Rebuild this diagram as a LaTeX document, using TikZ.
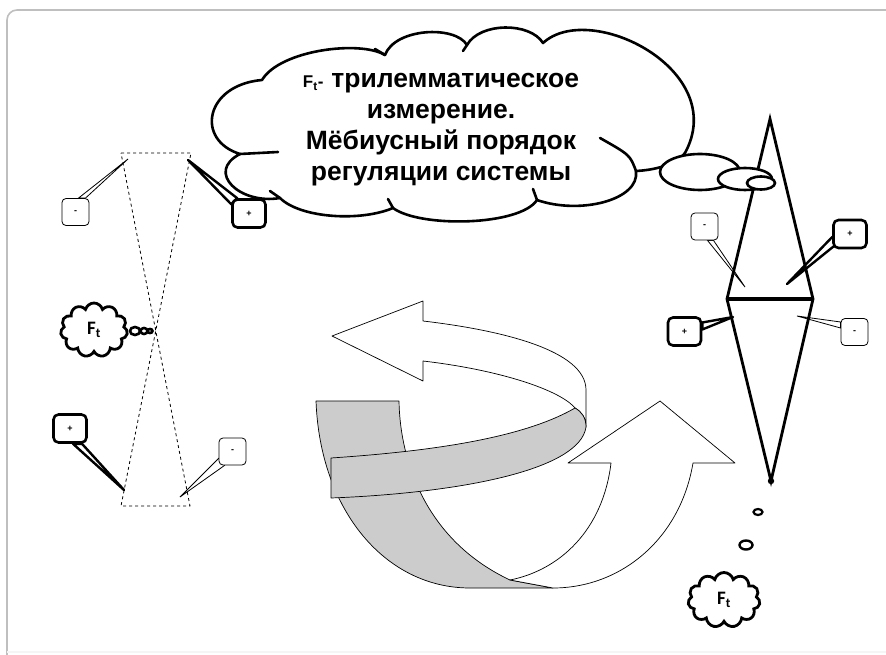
\documentclass[tikz,border=0pt]{standalone}
\usepackage{fontspec}
\newfontfamily\arialb{Liberation Sans}
\newfontfamily\calib{Carlito}
\usetikzlibrary{shapes.symbols}
\pgfdeclarelayer{under}
\pgfsetlayers{under,main}
\tikzset{
    thinbox/.style={draw, fill=white, rounded corners=4pt, line width=0.8pt, minimum width=27pt, minimum height=27pt, inner sep=0pt, font=\arialb\bfseries\fontsize{9}{9}\selectfont},
    thickbox/.style={thinbox, line width=2.6pt, minimum width=33pt, minimum height=28pt, rounded corners=5pt},
    thinwedge/.style={draw, fill=white, line width=0.8pt},
    thickwedge/.style={draw, fill=white, line width=2.4pt, line join=round},
    puff/.style={cloud, cloud puffs=11, cloud ignores aspect, draw, fill=white, line width=2.8pt, inner sep=0pt, font=\calib\bfseries\fontsize{19}{20}\selectfont},
    bubble/.style={draw, fill=white, line width=2.6pt},
    band/.style={draw, line width=0.7pt, line join=round},
    bigcloud/.style={draw, fill=white, line width=2.6pt, line join=round, line cap=round}
}
\begin{document}
\begin{tikzpicture}[x=1pt, y=-1pt]
        \useasboundingbox (0,0) rectangle (886,655);
        \clip (0,0) rectangle (886,655);
        \draw[gray!50, line width=1.6pt, rounded corners=10pt] (7,670) -- (7,10) -- (900,10);
        \draw[gray!8, line width=1.2pt] (7,652) -- (886,652);

        \coordinate (hA) at (121,153);
        \coordinate (hB) at (191,153);
        \coordinate (hC) at (121,506);
        \coordinate (hD) at (190,506);
        \draw[dashed, line width=0.8pt] (hA) -- (hB) -- (hC) -- (hD) -- (hA) -- cycle;

        \draw[band, fill=gray!40] (316,401) -- (399,401) .. controls (400,460) and (425,540) .. (510,580) -- (553,588) -- (470,588) .. controls (385,588) and (320,510) .. (316,401) -- cycle;
        \draw[band, fill=white] (510,580) .. controls (560,570) and (603,530) .. (611,463) -- (568,463) -- (660,401) -- (735,463) -- (693,463) .. controls (680,540) and (620,588) .. (553,588) -- cycle;
        \draw[band, fill=white] (332,336) -- (423,301) -- (423,321) .. controls (500,330) and (586,350) .. (586,390) -- (586,427) .. controls (586,418) and (582,412) .. (575,408) .. controls (560,390) and (500,370) .. (423,361) -- (423,381) -- cycle;
        \draw[band, fill=gray!40] (575,408) .. controls (520,440) and (420,452) .. (331,458) -- (331,498) .. controls (460,493) and (580,470) .. (586,427) .. controls (586,418) and (582,412) .. (575,408) -- cycle;

        \coordinate (dT) at (770,119);
        \coordinate (dL) at (727,299);
        \coordinate (dR) at (813,299);
        \coordinate (dB) at (771,481);
        \draw[line width=2.8pt, line join=miter] (dL) -- (dT) -- (dR) -- (dB) -- cycle;
        \draw[line width=4pt] (dL) -- (dR);
        \fill (dB) circle (3.2pt);

        \draw[bigcloud] (262,80) .. controls (280,50) and (360,40) .. (385,55)
            .. controls (395,28) and (455,25) .. (467,45)
            .. controls (480,22) and (530,22) .. (543,43)
            .. controls (590,0) and (730,70) .. (685,153)
            .. controls (675,165) and (655,170) .. (636,171)
            .. controls (640,200) and (580,215) .. (537,200)
            .. controls (520,226) and (420,228) .. (393,208)
            .. controls (360,222) and (300,218) .. (280,198)
            .. controls (240,205) and (205,172) .. (240,154)
            .. controls (195,140) and (205,85) .. (262,80) -- cycle;
        \draw[bigcloud] (385,55) -- (375,49);
        \draw[bigcloud] (467,45) -- (463,51);
        \draw[bigcloud] (636,171) .. controls (630,155) .. (600,138);
        \draw[bigcloud] (537,200) -- (533,189);
        \draw[bigcloud] (393,208) -- (388,199);
        \draw[bigcloud] (280,198) -- (270,191);
        \draw[bigcloud] (240,154) -- (278,152);
        \node[align=center, font=\arialb\bfseries\fontsize{26.5}{31}\selectfont] (T) at (441,130) {{\fontsize{17}{20}\selectfont F\textsubscript{t}-}\hspace{8pt}трилемматическое\\измерение.\\Мёбиусный порядок\\регуляции системы};
        \draw[bubble] (700,172) ellipse [x radius=40pt, y radius=18pt];
        \draw[bubble] (745,179) ellipse [x radius=27pt, y radius=11pt];
        \draw[bubble] (761,183) ellipse [x radius=14pt, y radius=6.5pt];

        \node[puff, minimum width=67pt, minimum height=54pt] (FL) at (94,330) {F\textsubscript{t}};
        \draw[bubble] (135,331) ellipse [x radius=5pt, y radius=4pt];
        \draw[bubble] (144,331) ellipse [x radius=3.5pt, y radius=3pt];
        \draw[bubble] (150,331) ellipse [x radius=2.5pt, y radius=2pt];

        \node[puff, minimum width=72pt, minimum height=55pt] (FR) at (724,600) {F\textsubscript{t}};
        \draw[bubble, line width=2.2pt] (758,512) ellipse [x radius=4.5pt, y radius=3pt];
        \draw[bubble, line width=2.4pt] (746,545) ellipse [x radius=6.5pt, y radius=4.5pt];

        \node[thinbox] (mA) at (75.5,212) {-};
        \node[thickbox] (pA) at (249,213.5) {+};
        \node[thickbox] (pB) at (70,428.5) {+};
        \node[thinbox] (mB) at (232.5,451.5) {-};
        \node[thinbox] (mC) at (704.5,226.5) {-};
        \node[thickbox] (pC) at (850,234) {+};
        \node[thickbox] (pD) at (684.5,331.5) {+};
        \node[thinbox] (mD) at (854.5,332) {-};

        \coordinate (tA) at (128,159);
        \coordinate (tB) at (188,160);
        \coordinate (tC) at (124,490);
        \coordinate (tD) at (180,497);
        \coordinate (tE) at (745,287);
        \coordinate (tF) at (787,284);
        \coordinate (tG) at (733,317);
        \coordinate (tH) at (797,316);
        \begin{pgfonlayer}{under}
            \draw[thinwedge] ([xshift=3pt]mA.north) -- (tA) -- ([xshift=10pt]mA.north) -- cycle;
            \draw[thickwedge] ([yshift=-6pt]pA.north west) -- (tB) -- ([xshift=6pt]pA.north west) -- cycle;
            \draw[thickwedge] ([xshift=3pt]pB.south) -- (tC) -- ([xshift=12pt]pB.south) -- cycle;
            \draw[thinwedge] ([yshift=7pt]mB.south west) -- (tD) -- ([xshift=6pt]mB.south west) -- cycle;
            \draw[thinwedge] ([xshift=3pt]mC.south) -- (tE) -- ([xshift=9pt]mC.south) -- cycle;
            \draw[thickwedge] ([yshift=-3pt]pC.west) -- (tF) -- ([xshift=4pt,yshift=5pt]pC.south west) -- cycle;
            \draw[thickwedge] ([yshift=9pt]pD.east) -- (tG) -- ([yshift=2pt]pD.east) -- cycle;
            \draw[thinwedge] ([yshift=10pt]mD.west) -- (tH) -- ([yshift=4pt]mD.west) -- cycle;
        \end{pgfonlayer}
    \end{tikzpicture}
\end{document}
